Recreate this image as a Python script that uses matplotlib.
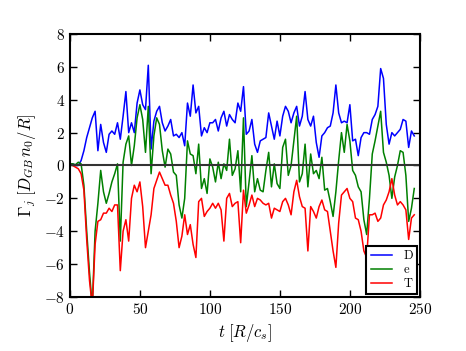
import matplotlib
matplotlib.use("Agg")
import matplotlib.pyplot as plt
import numpy as np

plt.rcParams['font.family'] = 'serif'
plt.rcParams['font.serif'] = ['cmr10']
plt.rcParams['mathtext.fontset'] = 'cm'
plt.rcParams['axes.formatter.use_mathtext'] = True

# sample times (R/cs)
t = np.arange(0, 248, 2)

flux_D = [0.1, 0.1, 0.0, 0.0, 0.3, 0.9, 1.7, 2.3, 2.9, 3.3, 0.9, 2.5, 1.4, 0.8, 1.9, 2.1, 1.9, 2.6,
          1.6, 3.0, 4.5, 2.0, 2.6, 2.0, 3.8, 4.6, 3.7, 3.4, 6.1, 1.0, 2.7, 3.3, 3.6, 2.6, 2.1, 2.4,
          2.8, 1.8, 1.9, 1.7, 2.0, 1.2, 3.8, 3.0, 4.9, 3.2, 3.6, 1.8, 2.3, 2.0, 2.6, 2.6, 2.8, 2.1,
          2.9, 3.3, 2.4, 3.1, 2.8, 2.6, 3.8, 3.3, 4.8, 1.9, 2.1, 2.8, 1.3, 0.8, 1.5, 1.6, 1.7, 3.2,
          2.4, 1.6, 2.7, 1.8, 3.0, 3.6, 3.3, 2.6, 3.2, 3.6, 2.4, 3.0, 4.5, 2.8, 2.4, 3.0, 1.4, 0.5,
          1.8, 2.0, 2.3, 2.4, 3.2, 4.9, 3.2, 2.6, 2.7, 2.6, 3.7, 1.5, 1.6, 0.6, 1.7, 2.0, 2.0, 1.9,
          2.8, 3.1, 3.6, 5.9, 5.3, 2.5, 1.3, 2.0, 1.8, 2.0, 2.2, 2.8, 2.7, 1.1, 2.1, 1.8]

flux_e = [0.1, 0.1, 0.05, 0.2, 0.1, -1.2, -4.0, -6.5, -8.6, -4.0, -2.3, -0.3, -1.6, -2.3, -1.7, -1.0, -0.5, 0.1,
          -4.6, 0.2, 1.3, 1.8, 0.0, 1.2, 2.9, 3.7, 2.8, 0.8, 3.6, -0.5, 1.8, 2.9, 2.5, 0.9, -0.1, 1.0,
          0.7, -0.4, -0.6, -2.4, -3.2, -2.0, 1.5, 0.7, 0.6, -0.5, 1.3, -1.4, -0.8, -1.7, 0.4, -0.1, -1.0, 0.2,
          -0.8, 0.1, -0.3, 1.6, -0.6, -0.2, 0.9, -1.6, 2.9, -2.5, -1.0, 0.6, -1.6, -0.8, -1.5, -1.6, -0.3, 0.8,
          -1.3, 0.1, -1.1, -1.4, 1.1, 1.6, -0.6, 0.0, 1.5, 3.0, -1.0, -0.5, 1.3, -1.3, 0.7, -0.5, -0.3, -0.8,
          0.5, -1.5, -1.4, -2.2, -3.1, -1.6, 0.3, 2.0, 0.8, 2.5, 1.5, -0.3, -0.6, -1.3, -1.6, -3.3, -4.2, -2.0,
          0.7, 1.5, 2.4, 3.3, 0.8, 0.2, -0.6, -2.0, -0.7, 0.0, 0.9, 0.8, -0.6, -3.4, -2.6, -1.4]

flux_T = [0.1, 0.0, -0.1, -0.2, -0.5, -1.5, -4.5, -7.0, -8.6, -4.8, -3.4, -3.3, -2.9, -2.9, -2.6, -2.8, -2.4, -2.4,
          -6.4, -4.0, -3.3, -4.6, -2.0, -1.2, -1.6, -1.0, -2.5, -5.0, -4.0, -3.0, -1.4, -0.9, -0.4, -0.8, -1.2, -1.2,
          -1.8, -2.3, -3.4, -5.0, -4.3, -3.0, -4.2, -3.6, -4.8, -5.6, -2.2, -2.0, -3.1, -2.8, -2.6, -2.3, -2.6, -2.3,
          -2.7, -4.6, -2.0, -1.7, -2.5, -2.3, -2.2, -4.7, -1.5, -2.9, -2.4, -1.8, -2.5, -2.0, -2.1, -2.3, -2.4, -2.3,
          -3.2, -2.6, -2.7, -2.8, -2.2, -2.0, -2.4, -3.0, -1.6, -0.9, -1.9, -2.5, -2.6, -5.2, -2.5, -2.8, -3.2, -2.5,
          -2.1, -2.7, -2.8, -4.0, -5.2, -6.2, -3.5, -1.8, -1.6, -1.4, -2.0, -2.2, -3.2, -3.3, -4.0, -5.2, -5.6, -3.0,
          -3.0, -2.9, -3.4, -3.2, -2.4, -2.1, -1.6, -0.8, -1.8, -2.4, -2.2, -2.4, -2.7, -4.5, -3.2, -3.0]

fig = plt.figure(figsize=(4.66, 3.51), dpi=100)
ax = fig.add_axes([0.150, 0.154, 0.751, 0.749])

ax.plot(t, flux_D, color='blue', lw=1.1, label='D')
ax.plot(t, flux_e, color='green', lw=1.1, label='e')
ax.plot(t, flux_T, color='red', lw=1.1, label='T')
ax.axhline(0, color='#333333', lw=1.5)

ax.set_xlim(0, 250)
ax.set_ylim(-8, 8)
ax.set_xticks([0, 50, 100, 150, 200, 250])
ax.set_yticks(range(-8, 9, 2))
ax.tick_params(direction='in', top=True, right=True, length=5, width=1, labelsize=11)
for s in ax.spines.values():
    s.set_linewidth(1.5)

ax.set_xlabel(r'$t\;[R/c_s]$', fontsize=12)
ax.set_ylabel(r'$\Gamma_j\;[D_{GB}\,n_0/R]$', fontsize=12)

leg = ax.legend(loc='lower right', fontsize=9, handlelength=1.7, borderaxespad=0.2,
                fancybox=False, framealpha=1, labelspacing=0.15, handletextpad=0.9,
                borderpad=0.35)
leg.get_frame().set_edgecolor('black')
leg.get_frame().set_linewidth(1.5)

fig.savefig('out.png', dpi=100)
